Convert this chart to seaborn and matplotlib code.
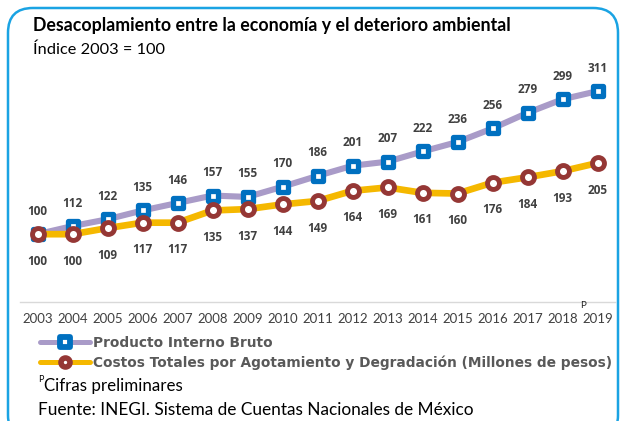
import matplotlib
matplotlib.use("Agg")
import matplotlib.pyplot as plt
import seaborn as sns
import pandas as pd
from matplotlib.patches import FancyBboxPatch
from matplotlib.lines import Line2D
from matplotlib.markers import MarkerStyle

years = [2003, 2004, 2005, 2006, 2007, 2008, 2009, 2010, 2011, 2012,
         2013, 2014, 2015, 2016, 2017, 2018, 2019]
pib = [100, 112, 122, 135, 146, 157, 155, 170, 186, 201, 207, 222, 236, 256, 279, 299, 311]
costos = [100, 100, 109, 117, 117, 135, 137, 144, 149, 164, 169, 161, 160, 176, 184, 193, 205]
tick_labels = [str(y) for y in years]
serie_pib = "Producto Interno Bruto"
serie_cost = "Costos Totales por Agotamiento y Degradación (Millones de pesos)"

df = pd.DataFrame({"year": years, "pib": pib, "costos": costos})

sns.set_style("white")
plt.rcParams["font.family"] = ["Lato", "DejaVu Sans"]

W, H = 620, 421
fig = plt.figure(figsize=(W / 100, H / 100), dpi=100)

def fx(px):
    return px / W

def fy(py):
    return 1 - py / H

ax = fig.add_axes([fx(20), fy(302), fx(615) - fx(20), fy(64.7) - fy(302)])

C_PIB_LINE = "#A99BC8"
C_PIB_MK = "#0070C0"
C_COST_LINE = "#F5B800"
C_COST_MK = "#953735"
TXT = "#404040"

sq = MarkerStyle("s", joinstyle="round")
sns.lineplot(data=df, x="year", y="pib", ax=ax, color=C_PIB_LINE, lw=4.4,
             marker=sq, markersize=7.2, markerfacecolor="white",
             markeredgecolor=C_PIB_MK, markeredgewidth=3.8, zorder=3, legend=False)
sns.lineplot(data=df, x="year", y="costos", ax=ax, color=C_COST_LINE, lw=4.8,
             marker="o", markersize=8.6, markerfacecolor="white",
             markeredgecolor=C_COST_MK, markeredgewidth=3.5, zorder=4, legend=False)

ax.set_xlim(2002.5, 2019.5)
ax.set_ylim(0, 350)
ax.set_xlabel("")
ax.set_ylabel("")
ax.set_yticks([])
ax.set_xticks(years)
ax.set_xticklabels(tick_labels, fontsize=9.5, color=TXT)
ax.tick_params(axis="x", length=0, pad=8)
for s in ["top", "left", "right"]:
    ax.spines[s].set_visible(False)
ax.spines["bottom"].set_color("#D9D9D9")
ax.spines["bottom"].set_linewidth(1)

for x, v in zip(years, pib):
    ax.annotate(str(v), (x, v), xytext=(0, 16.5), textcoords="offset points",
                ha="center", va="center", fontsize=8.5, fontweight="bold",
                color=TXT, family=["Open Sans", "DejaVu Sans"])
for x, v in zip(years, costos):
    ax.annotate(str(v), (x, v), xytext=(0, -19.5), textcoords="offset points",
                ha="center", va="center", fontsize=8.5, fontweight="bold",
                color=TXT, family=["Open Sans", "DejaVu Sans"])

# preliminary marker
fig.text(fx(583), fy(305), "P", fontsize=7, color="#222222", ha="center", va="center")

h_pib = Line2D([], [], color=C_PIB_LINE, lw=3.6, marker=sq, markersize=7,
               markerfacecolor="white", markeredgecolor=C_PIB_MK, markeredgewidth=4.2)
h_cost = Line2D([], [], color=C_COST_LINE, lw=3.6, marker="o", markersize=6.5,
                markerfacecolor="white", markeredgecolor=C_COST_MK, markeredgewidth=4.0)
leg = ax.legend([h_pib, h_cost], [serie_pib, serie_cost],
                loc="upper left", bbox_to_anchor=(fx(40), fy(336)),
                bbox_transform=fig.transFigure, frameon=False,
                handlelength=3.6, handletextpad=0.25, labelspacing=0.4,
                borderaxespad=0, borderpad=0,
                prop={"family": ["DejaVu Sans"], "weight": "bold", "size": 9.9})
for t in leg.get_texts():
    t.set_color("#595959")

fig.text(fx(33), fy(26), "Desacoplamiento entre la economía y el deterioro ambiental",
         fontsize=12.8, fontweight="bold", color="#000000", ha="left", va="center")
fig.text(fx(33), fy(50), "Índice 2003 = 100", fontsize=11.8, color="#000000",
         ha="left", va="center")
fig.text(fx(38), fy(380), "P", fontsize=6.5, color="#000000", ha="left", va="center")
fig.text(fx(44), fy(386), "Cifras preliminares", fontsize=12.2, color="#000000",
         ha="left", va="center")
fig.text(fx(38), fy(410), "Fuente: INEGI. Sistema de Cuentas Nacionales de México",
         fontsize=12.4, color="#000000", ha="left", va="center")

box = FancyBboxPatch((fx(8), fy(440)), fx(618) - fx(8), fy(8) - fy(440),
                     boxstyle="round,pad=0,rounding_size=0.04",
                     transform=fig.transFigure, fill=False,
                     edgecolor="#1AA3E3", linewidth=1.8, mutation_aspect=W / H)
fig.patches.append(box)

fig.savefig("out.png", dpi=100)
